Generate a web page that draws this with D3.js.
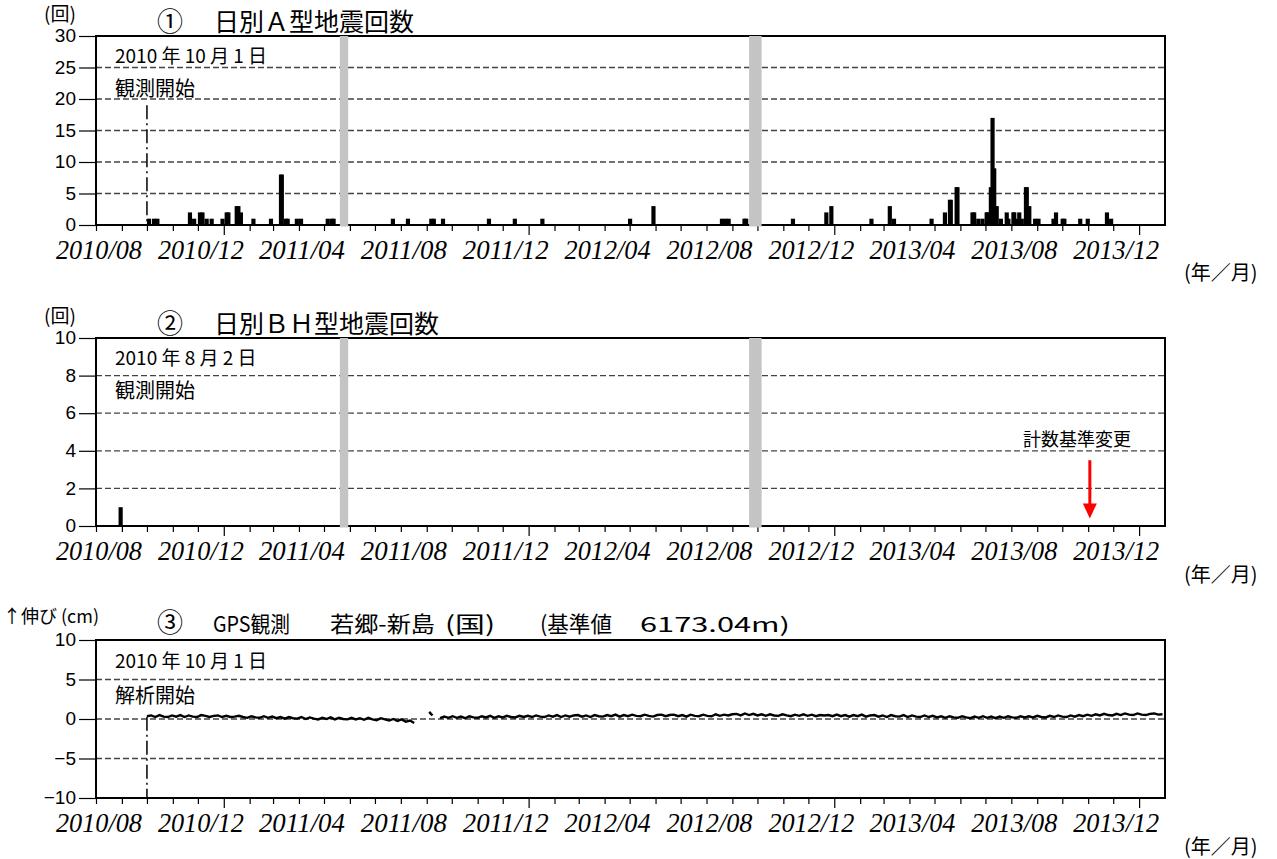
<!DOCTYPE html>
<html><head><meta charset="utf-8">
<script src="https://cdn.jsdelivr.net/npm/d3@7"></script>
<style>body{margin:0;background:#fff}svg{display:block}</style>
</head><body><svg id="c" width="1277" height="859"></svg>
<script>
// ---------------- DATA ----------------
const xTickLabels = ["2010/08","2010/12","2011/04","2011/08","2011/12","2012/04","2012/08","2012/12","2013/04","2013/08","2013/12"];
const yTicksA = [0,5,10,15,20,25,30];
const yTicksB = [0,2,4,6,8,10];
const yTicksC = [-10,-5,0,5,10];

// gaps (gray bands) in the seismic record
const gapStarts = ["2011-05-20","2012-09-21"];
const gapEnds   = ["2011-05-30","2012-10-06"];

// ① daily A-type earthquake counts
const aDates = ["2010-10-01","2010-10-07","2010-10-11","2010-11-19","2010-11-24","2010-12-01","2010-12-04","2010-12-09","2010-12-15","2010-12-28",
"2011-01-02","2011-01-04","2011-01-14","2011-01-16","2011-01-19","2011-02-03","2011-02-24","2011-03-08","2011-03-09","2011-03-14",
"2011-03-16","2011-03-27","2011-04-01","2011-05-03","2011-05-08","2011-05-10","2011-07-20","2011-08-07","2011-09-04","2011-09-07",
"2011-09-18","2011-11-12","2011-12-13","2012-01-15","2012-04-29","2012-05-27","2012-08-17","2012-08-21","2012-08-25","2012-09-13",
"2012-09-15","2012-11-10","2012-12-20","2012-12-26","2013-02-12","2013-03-06","2013-03-11","2013-04-25","2013-05-11","2013-05-17",
"2013-05-18","2013-05-25","2013-05-26","2013-06-13","2013-06-15","2013-06-20","2013-06-25","2013-06-30","2013-07-01","2013-07-05",
"2013-07-07","2013-07-09","2013-07-12","2013-07-17","2013-07-24","2013-07-26","2013-08-01","2013-08-02","2013-08-04","2013-08-08",
"2013-08-11","2013-08-16","2013-08-17","2013-08-20","2013-08-27","2013-08-31","2013-09-18","2013-09-21","2013-09-29","2013-10-01",
"2013-10-20","2013-10-29","2013-11-21","2013-11-26"];
const aCounts = [1,1,1,2,1,2,2,1,1,1,
2,2,3,3,2,1,1,8,8,1,
1,1,1,1,1,1,1,1,1,1,
1,1,1,1,1,3,1,1,1,1,
1,1,2,3,1,3,1,1,2,4,
4,6,6,2,2,1,1,2,2,6,
17,9,3,1,2,1,2,2,1,2,
1,6,6,3,1,1,1,2,1,1,
1,1,2,1];

// ② daily BH-type earthquake counts
const bDates = ["2010-08-28"];
const bCounts = [1];

// ③ GPS baseline length change (cm), sampled every 5 days
const gpsStartA = "2010-10-01";
const gpsA = [0.35,0.45,0.25,0.5,0.3,0.25,0.45,0.3,0.5,0.25,
0.45,0.3,0.25,0.5,0.4,0.25,0.4,0.45,0.25,0.4,
0.25,0.3,0.4,0.25,0.15,0.35,0.2,0.15,0.35,0.15,
0.3,0.1,0.25,0.05,0.25,0.1,0.05,0.25,0.0,0.2,
0.05,-0.05,0.15,0.0,0.2,-0.05,0.15,0.0,-0.05,0.15,
-0.05,0.1,-0.1,0.15,-0.05,-0.15,0.1,-0.05,-0.2,0.0,
-0.25,-0.05,-0.35,-0.2,-0.5];
const gpsDatesB = ["2011-09-04","2011-09-06","2011-09-08"];
const gpsB = [0.9,0.65,0.45];
const gpsStartC = "2011-09-17";
const gpsC = [0.1,0.3,0.15,0.35,0.15,0.3,0.1,0.35,0.2,0.15,0.35,0.2,0.4,0.15,0.35,0.2,0.4,0.25,0.2,0.4,0.25,
0.4,0.25,0.45,0.3,0.25,0.45,0.3,0.5,0.25,0.45,0.3,0.45,0.5,0.3,0.45,0.25,0.5,0.35,0.3,0.5,0.35,0.55,0.3,0.5,
0.35,0.55,0.4,0.35,0.55,0.4,0.3,0.5,0.55,0.35,0.5,0.55,0.35,0.5,0.3,0.55,0.4,0.35,0.55,0.4,0.35,0.6,0.4,0.55,
0.45,0.6,0.65,0.45,0.7,0.5,0.65,0.45,0.6,0.4,0.6,0.45,0.4,0.6,0.45,0.35,0.55,0.4,0.6,0.4,0.55,0.35,0.5,0.45,
0.5,0.35,0.55,0.35,0.5,0.3,0.5,0.35,0.55,0.3,0.45,0.5,0.3,0.45,0.25,0.5,0.35,0.3,0.5,0.25,0.45,0.3,0.25,0.45,
0.25,0.4,0.2,0.35,0.15,0.35,0.2,0.15,0.35,0.2,0.1,0.3,0.15,0.35,0.15,0.3,0.1,0.3,0.15,0.35,0.2,0.15,0.35,0.2,
0.35,0.2,0.4,0.25,0.2,0.4,0.25,0.45,0.3,0.25,0.45,0.3,0.5,0.35,0.55,0.4,0.6,0.45,0.65,0.5,0.45,0.65,0.5,0.7,
0.55,0.5,0.7,0.55,0.5,0.65,0.7,0.55,0.6];
const gpsStep = 5;

const startDate = "2010-10-01";     // 観測開始 / 解析開始
const changeDate = "2013-11-03";    // 計数基準変更

// ---------------- DRAW ----------------
const parse = d3.utcParse("%Y-%m-%d");
const parseYM = d3.utcParse("%Y/%m");
const svg = d3.select("#c");
const X0 = 96, X1 = 1165;
const x = d3.scaleUtc().domain([parse("2010-08-01"), parse("2014-02-01")]).range([X0, X1]);
const JP = "'Noto Sans CJK JP', sans-serif";

function panel(top, bottom, domain, ticks, grids, bands) {
  const y = d3.scaleLinear().domain(domain).range([bottom, top]);
  const g = svg.append("g");
  g.selectAll("line.grid").data(grids).join("line")
    .attr("x1", X0).attr("x2", X1).attr("y1", d => y(d)).attr("y2", d => y(d))
    .attr("stroke", "#444").attr("stroke-width", 1.3).attr("stroke-dasharray", "6,3");
  const ya = g.append("g").attr("transform", `translate(${X0},0)`)
    .call(d3.axisLeft(y).tickValues(ticks).tickSize(17).tickPadding(3));
  ya.select(".domain").remove();
  ya.selectAll(".tick line").attr("stroke", "#000").attr("stroke-width", 1.2);
  ya.selectAll(".tick text").attr("font-family", "'Liberation Sans', Arial, sans-serif")
    .attr("font-size", 19).attr("fill", "#000").attr("dy", "0.3em");
  const months = d3.utcMonth.range(parse("2010-08-01"), parse("2014-02-01"));
  const xa = g.append("g").attr("transform", `translate(0,${bottom})`)
    .call(d3.axisBottom(x).tickValues(months).tickSize(6).tickFormat(""));
  xa.select(".domain").remove();
  xa.selectAll(".tick line").attr("stroke", "#000").attr("stroke-width", 1.2)
    .attr("y2", d => d.getUTCMonth() === 0 ? 10 : 6);
  g.selectAll("text.xl").data(xTickLabels).join("text")
    .attr("x", d => x(parseYM(d)) + 3).attr("y", bottom + 34)
    .attr("text-anchor", "middle")
    .attr("font-family", "'Liberation Serif', 'Times New Roman', serif")
    .attr("font-style", "italic").attr("font-size", 27)
    .attr("textLength", 86).attr("lengthAdjust", "spacingAndGlyphs")
    .text(d => d);
  g.append("rect").attr("x", X0).attr("y", top).attr("width", X1 - X0).attr("height", bottom - top)
    .attr("fill", "none").attr("stroke", "#000").attr("stroke-width", 2);
  if (bands) {
    g.selectAll("rect.band").data(gapStarts).join("rect")
      .attr("x", d => x(parse(d))).attr("width", (d, i) => x(parse(gapEnds[i])) - x(parse(d)))
      .attr("y", top).attr("height", bottom - top + 1.5).attr("fill", "#c4c4c4");
  }
  return {g, y};
}

function bars(p, dates, counts) {
  p.g.selectAll("rect.bar").data(dates).join("rect")
    .attr("x", d => x(parse(d)))
    .attr("width", d => x(d3.utcDay.offset(parse(d), 5)) - x(parse(d)))
    .attr("y", (d, i) => p.y(counts[i]))
    .attr("height", (d, i) => p.y(0) - p.y(counts[i]))
    .attr("fill", "#000");
}

function txt(s, xx, yy, size, anchor, len) {
  const t = svg.append("text").attr("x", xx).attr("y", yy).attr("font-size", size)
    .attr("font-family", JP).attr("text-anchor", anchor || "start").attr("fill", "#000").text(s);
  if (len) t.attr("textLength", len).attr("lengthAdjust", "spacingAndGlyphs");
}

// ① panel
const p1 = panel(36, 225, [0, 30], yTicksA, [5, 10, 15, 20, 25], true);
bars(p1, aDates, aCounts);
p1.g.append("line").attr("x1", x(parse(startDate))).attr("x2", x(parse(startDate)))
  .attr("y1", p1.y(19)).attr("y2", p1.y(0))
  .attr("stroke", "#000").attr("stroke-width", 1.5).attr("stroke-dasharray", "14,4,2,4");
txt("(回)", 44, 21, 19);
txt("①", 157, 31, 26);
txt("日別Ａ型地震回数", 214, 31, 25);
txt("2010 年 10 月 1 日", 115, 63, 19);
txt("観測開始", 115, 96, 20);
txt("(年／月)", 1184, 280, 20);

// ② panel
const p2 = panel(338, 526, [0, 10], yTicksB, [2, 4, 6, 8], true);
bars(p2, bDates, bCounts);
txt("(回)", 44, 323, 19);
txt("②", 157, 333, 26);
txt("日別ＢＨ型地震回数", 214, 333, 25);
txt("2010 年 8 月 2 日", 115, 365, 19);
txt("観測開始", 115, 398, 20);
txt("計数基準変更", 1077, 446, 18, "middle");
const ax = x(parse(changeDate));
p2.g.append("line").attr("x1", ax).attr("x2", ax).attr("y1", p2.y(3.5)).attr("y2", p2.y(1.1))
  .attr("stroke", "#ff0000").attr("stroke-width", 3);
p2.g.append("path")
  .attr("d", `M${ax - 7},${p2.y(1.2)} L${ax + 7},${p2.y(1.2)} L${ax},${p2.y(0.4)} Z`)
  .attr("fill", "#ff0000");
txt("(年／月)", 1184, 582, 20);

// ③ panel
const p3 = panel(640, 798, [-10, 10], yTicksC, [-5, 0, 5], false);
const line = d3.line().x(d => x(d[0])).y(d => p3.y(d[1]));
const segA = gpsA.map((v, i) => [d3.utcDay.offset(parse(gpsStartA), i * gpsStep), v]);
const segB = gpsB.map((v, i) => [parse(gpsDatesB[i]), v]);
const segC = gpsC.map((v, i) => [d3.utcDay.offset(parse(gpsStartC), i * gpsStep), v]);
[segA, segB, segC].forEach(s => p3.g.append("path").attr("d", line(s))
  .attr("fill", "none").attr("stroke", "#000").attr("stroke-width", 2.4));
p3.g.append("line").attr("x1", x(parse(startDate))).attr("x2", x(parse(startDate)))
  .attr("y1", p3.y(0.3)).attr("y2", p3.y(-10))
  .attr("stroke", "#000").attr("stroke-width", 1.5).attr("stroke-dasharray", "14,4,2,4");
txt("↑伸び (cm)", 3, 623, 18);
txt("③", 157, 632, 26);
txt("GPS観測", 213, 632, 22, "start", 77);
txt("若郷-新島", 330, 632, 22, "start", 105);
txt("(国)", 445, 632, 22, "start", 50);
txt("(基準値", 540, 632, 22, "start", 72);
txt("6173.04m)", 640, 632, 20, "start", 150);
txt("2010 年 10 月 1 日", 115, 668, 19);
txt("解析開始", 115, 703, 20);
txt("(年／月)", 1184, 854, 20);
</script>
</body></html>
